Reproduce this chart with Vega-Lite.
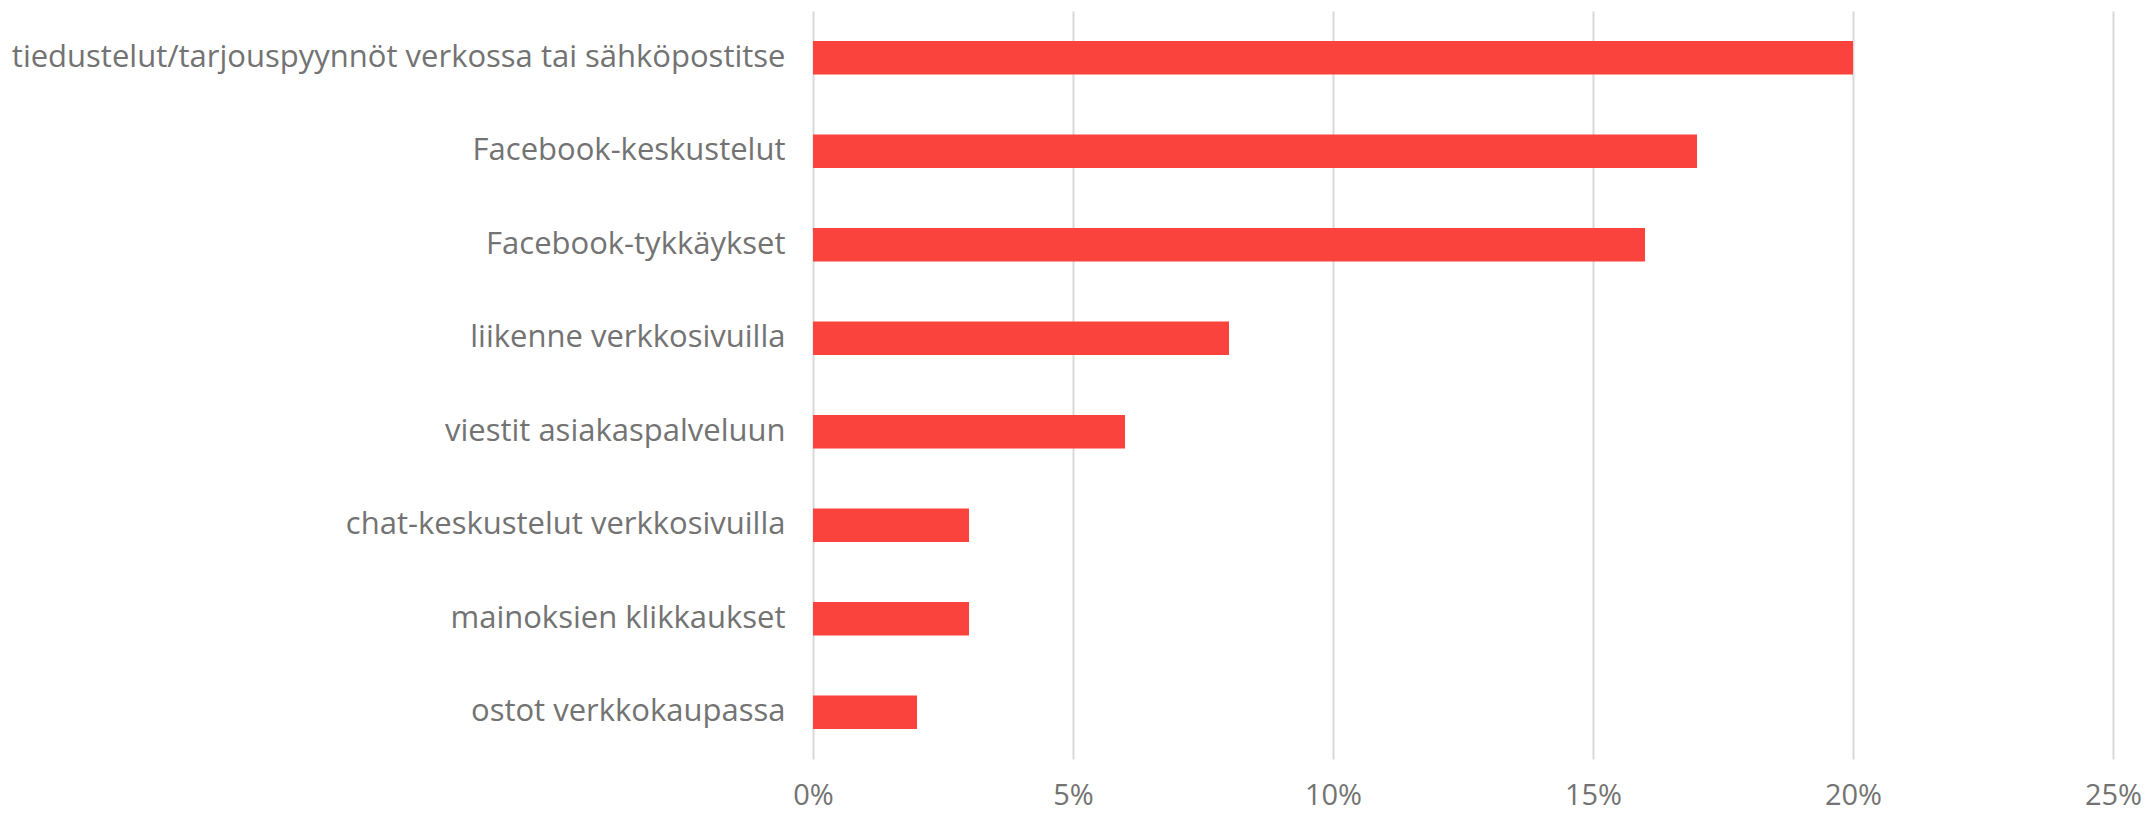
{
  "$schema": "https://vega.github.io/schema/vega-lite/v6.json",
  "autosize": "none",
  "width": 1300,
  "height": 748,
  "padding": {"left": 813, "top": 11, "right": 31, "bottom": 54},
  "background": "white",
  "config": {"view": {"stroke": null}, "font": "Open Sans"},
  "data": {"values": [
    {"kanava": "tiedustelut/tarjouspyynnöt verkossa tai sähköpostitse", "osuus": 0.20},
    {"kanava": "Facebook-keskustelut", "osuus": 0.17},
    {"kanava": "Facebook-tykkäykset", "osuus": 0.16},
    {"kanava": "liikenne verkkosivuilla", "osuus": 0.08},
    {"kanava": "viestit asiakaspalveluun", "osuus": 0.06},
    {"kanava": "chat-keskustelut verkkosivuilla", "osuus": 0.03},
    {"kanava": "mainoksien klikkaukset", "osuus": 0.03},
    {"kanava": "ostot verkkokaupassa", "osuus": 0.02}
  ]},
  "mark": {"type": "bar", "color": "#FA433C"},
  "encoding": {
    "y": {
      "field": "kanava", "type": "nominal", "sort": null,
      "scale": {"paddingInner": 0.64, "paddingOuter": 0.32},
      "axis": {"title": null, "domain": false, "ticks": false, "labelPadding": 28, "labelLimit": 0, "labelFontSize": 31, "labelColor": "#737373", "labelFont": "Open Sans"}
    },
    "x": {
      "field": "osuus", "type": "quantitative",
      "scale": {"domain": [0, 0.25]},
      "axis": {"title": null, "format": ".0%", "values": [0, 0.05, 0.1, 0.15, 0.2, 0.25], "domain": false, "ticks": false, "grid": true, "gridColor": "#D9D9D9", "gridWidth": 2, "labelPadding": 22, "labelFontSize": 29, "labelColor": "#737373", "labelFont": "Open Sans", "labelFlush": false}
    }
  }
}
